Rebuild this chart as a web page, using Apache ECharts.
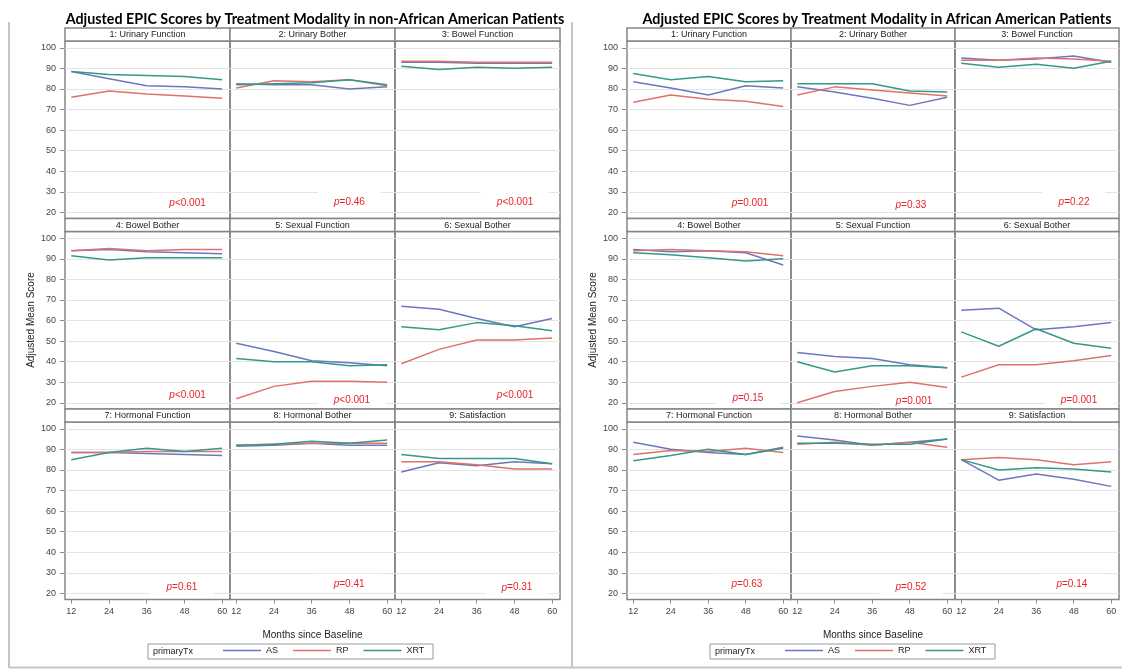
<!DOCTYPE html>
<html>
<head>
<meta charset="utf-8">
<title>Adjusted EPIC Scores by Treatment Modality</title>
<script src="https://cdn.jsdelivr.net/npm/echarts@6/dist/echarts.min.js"></script>
<style>
html, body { margin: 0; padding: 0; background: #fff; }
#chart { width: 1122px; height: 669px; }
</style>
</head>
<body>
<div id="chart"></div>
<script>
var months = [12, 24, 36, 48, 60];
var yTickVals = [20, 30, 40, 50, 60, 70, 80, 90, 100];
var txNames = ['AS', 'RP', 'XRT'];
var txColors = ['#6c77bd', '#df726b', '#35988a'];
var domainNames = ['1: Urinary Function', '2: Urinary Bother', '3: Bowel Function',
    '4: Bowel Bother', '5: Sexual Function', '6: Sexual Bother',
    '7: Hormonal Function', '8: Hormonal Bother', '9: Satisfaction'];
var panelTitles = ['Adjusted EPIC Scores by Treatment Modality in non-African American Patients',
    'Adjusted EPIC Scores by Treatment Modality in African American Patients'];

// non-African American patients, one row per domain (12..60 months)
var nonAA_AS = [
    [88.5, 85, 81.5, 81, 80],
    [82.5, 82, 82, 80, 81],
    [93, 93, 92.5, 92.5, 92.5],
    [94, 94.5, 93.5, 93, 92.5],
    [49, 45, 40.5, 39.5, 38],
    [67, 65.5, 61, 57, 61],
    [88.5, 88.5, 88, 87.5, 87],
    [91.5, 92, 93, 92, 92],
    [79, 83.5, 82, 84, 83]
];
var nonAA_RP = [
    [76, 79, 77.5, 76.5, 75.5],
    [80.5, 84, 83.5, 84.5, 81.5],
    [93.5, 93.5, 93, 93, 93],
    [94, 95, 94, 94.5, 94.5],
    [22, 28, 30.5, 30.5, 30],
    [39, 46, 50.5, 50.5, 51.5],
    [88.5, 88.5, 89, 89, 89],
    [92, 92.5, 93, 93, 93],
    [84, 84, 82.5, 80.5, 80.5]
];
var nonAA_XRT = [
    [88.5, 87, 86.5, 86, 84.5],
    [82, 82.5, 83, 84.5, 82],
    [91, 89.5, 90.5, 90, 90.5],
    [91.5, 89.5, 90.5, 90.5, 90.5],
    [41.5, 40, 40, 38, 38.5],
    [57, 55.5, 59, 57.5, 55],
    [85, 88.5, 90.5, 89, 90.5],
    [92, 92.5, 94, 93, 94.5],
    [87.5, 85.5, 85.5, 85.5, 83]
];
var nonAA_p = ['<0.001', '=0.46', '<0.001', '<0.001', '<0.001', '<0.001', '=0.61', '=0.41', '=0.31'];
var nonAA_pX = [49, 48, 48.2, 49, 48.8, 48.2, 47.2, 47.9, 48.8];
var nonAA_pY = [25.2, 25.9, 26, 24.8, 22.4, 24.8, 24.1, 25.2, 23.7];

// African American patients
var aa_AS = [
    [83.5, 80.5, 77, 81.5, 80.5],
    [81, 78.5, 75.5, 72, 76],
    [95, 94, 94.5, 96, 93],
    [94.5, 93.5, 94, 93, 87],
    [44.5, 42.5, 41.5, 38.5, 37],
    [65, 66, 55.5, 57, 59],
    [93.5, 90, 88.5, 87.5, 91],
    [96.5, 94.5, 92, 93.5, 95],
    [85, 75, 78, 75.5, 72]
];
var aa_RP = [
    [73.5, 77, 75, 74, 71.5],
    [77, 81, 79.5, 78, 76.5],
    [94, 94, 95, 94.5, 93.5],
    [94, 94.5, 94, 93.5, 91.5],
    [20, 25.5, 28, 30, 27.5],
    [32.5, 38.5, 38.5, 40.5, 43],
    [87.5, 89.5, 89, 90.5, 88.5],
    [92.5, 93.5, 92, 93.5, 91],
    [85, 86, 85, 82.5, 84]
];
var aa_XRT = [
    [87.5, 84.5, 86, 83.5, 84],
    [82.5, 82.5, 82.5, 79, 78.5],
    [92.5, 90.5, 92, 90, 93.5],
    [93, 92, 90.5, 89, 90],
    [40, 35, 38, 38, 37],
    [54.5, 47.5, 56, 49, 46.5],
    [84.5, 87, 90, 87.5, 90.5],
    [93, 93, 92.5, 92.5, 95],
    [85, 80, 81, 80.5, 79]
];
var aa_p = ['=0.001', '=0.33', '=0.22', '=0.15', '=0.001', '=0.001', '=0.63', '=0.52', '=0.14'];
var aa_pX = [49.4, 48.4, 48.1, 48.7, 49.4, 49.7, 48.4, 48.4, 47.4];
var aa_pY = [25.2, 24.5, 26, 23.1, 21.9, 22.4, 25.2, 24.1, 25.2];

var FONT = 'Liberation Sans, Arial, sans-serif';
var ROW_TOP = 28, ROW_STEP = 190.5, HEAD_H = 13, PLOT_H = 177.5;
var BORDER = '#858585';

var panels = [
    {x0: 65, colW: 165, title: panelTitles[0], vals: [nonAA_AS, nonAA_RP, nonAA_XRT], p: nonAA_p, pX: nonAA_pX, pY: nonAA_pY},
    {x0: 627, colW: 164, title: panelTitles[1], vals: [aa_AS, aa_RP, aa_XRT], p: aa_p, pX: aa_pX, pY: aa_pY}
];

var grids = [], xAxes = [], yAxes = [], series = [], graphics = [], legends = [];

function txt(x, y, s, font, color, align, extra) {
    var el = {
        type: 'text', x: x, y: y, z: 10,
        style: {text: s, font: font, fill: color, align: align, verticalAlign: 'middle',
            textAlign: align, textVerticalAlign: 'middle'}
    };
    if (extra) { for (var k in extra) el[k] = extra[k]; }
    return el;
}

panels.forEach(function (pn, pi) {
    var frameX = pi == 0 ? 9 : 572;
    graphics.push({type: 'line', z: 1, shape: {x1: frameX, y1: 22, x2: frameX, y2: 668}, style: {stroke: '#c6c6c6', lineWidth: 2}});
    // titles
    graphics.push(txt(pn.x0 + 250, 19, pn.title, 'bold 14.3px Lato, sans-serif', '#000', 'center'));
    graphics.push(txt(pn.x0 - 34, 320, 'Adjusted Mean Score', '10px ' + FONT, '#222', 'center', {rotation: Math.PI / 2}));
    graphics.push(txt(pn.x0 + pn.colW * 1.5, 635, 'Months since Baseline', '10px ' + FONT, '#222', 'center'));
    // legend frame
    graphics.push({type: 'rect', z: 1, shape: {x: pn.x0 + 83, y: 644, width: 285, height: 15}, style: {fill: '#fff', stroke: '#9a9a9a', lineWidth: 1}});
    graphics.push(txt(pn.x0 + 88, 651.5, 'primaryTx', '9px ' + FONT, '#222', 'left'));
    legends.push({
        data: txNames, left: pn.x0 + 158, top: 646, padding: 0,
        icon: 'rect', itemWidth: 38, itemHeight: 1.5, itemGap: 15, selectedMode: false,
        textStyle: {fontSize: 9, color: '#222', fontFamily: FONT}
    });

    for (var c = 0; c < 9; c++) {
        var r = Math.floor(c / 3), k = c % 3;
        var gi = grids.length;
        var left = pn.x0 + k * pn.colW;
        var rowTop = ROW_TOP + r * ROW_STEP;
        grids.push({left: left, top: rowTop + HEAD_H, width: pn.colW, height: PLOT_H,
            show: true, borderColor: BORDER, borderWidth: 1.5, backgroundColor: 'transparent'});
        // header strip
        graphics.push({type: 'rect', z: 2, shape: {x: left, y: rowTop, width: pn.colW, height: HEAD_H},
            style: {fill: '#fff', stroke: BORDER, lineWidth: 1.5}});
        graphics.push(txt(left + pn.colW / 2, rowTop + HEAD_H / 2 + 0.5, domainNames[c], '9px ' + FONT, '#222', 'center'));

        xAxes.push({
            gridIndex: gi, type: 'value', min: 10, max: 62.5,
            axisLine: {show: false},
            axisTick: {show: r == 2, length: 4, customValues: months, lineStyle: {color: '#888'}},
            axisLabel: {show: r == 2, customValues: months, margin: 8, fontSize: 9, color: '#444', fontFamily: FONT},
            splitLine: {show: false}
        });
        yAxes.push({
            gridIndex: gi, type: 'value', min: 17, max: 103.3,
            axisLine: {show: false},
            axisTick: {show: k == 0, length: 5, customValues: yTickVals, lineStyle: {color: '#888'}},
            axisLabel: {show: k == 0, customValues: yTickVals, margin: 9, fontSize: 9, color: '#444', fontFamily: FONT},
            splitLine: {show: true, lineStyle: {color: '#e4e4e4', width: 1}}
        });
        for (var s = 0; s < 3; s++) {
            var vals = pn.vals[s][c];
            series.push({
                type: 'line', name: txNames[s], xAxisIndex: gi, yAxisIndex: gi,
                data: months.map(function (m, i) { return [m, vals[i]]; }),
                symbol: 'none', silent: true, z: 3,
                lineStyle: {color: txColors[s], width: 1.5},
                itemStyle: {color: txColors[s]}
            });
        }
        // p-value inset
        series.push({
            type: 'scatter', name: 'pval', xAxisIndex: gi, yAxisIndex: gi,
            data: [[pn.pX[c], pn.pY[c]]], symbolSize: 1, itemStyle: {color: 'rgba(0,0,0,0)'}, silent: true, z: 4,
            label: {
                show: true, position: 'inside', opacity: 1,
                formatter: '{i|p}{n|' + pn.p[c] + '}',
                backgroundColor: '#fff', padding: [6, 16, 2, 16],
                rich: {
                    i: {fontStyle: 'italic', fontSize: 10, color: '#e8232d', fontFamily: FONT},
                    n: {fontSize: 10, color: '#e8232d', fontFamily: FONT}
                }
            }
        });
    }
});
graphics.push({type: 'line', z: 1, shape: {x1: 9, y1: 667.5, x2: 1122, y2: 667.5}, style: {stroke: '#c6c6c6', lineWidth: 2}});

var chart = echarts.init(document.getElementById('chart'));
chart.setOption({
    animation: false,
    backgroundColor: '#fff',
    grid: grids,
    xAxis: xAxes,
    yAxis: yAxes,
    legend: legends,
    series: series,
    graphic: graphics
});
</script>
</body>
</html>
